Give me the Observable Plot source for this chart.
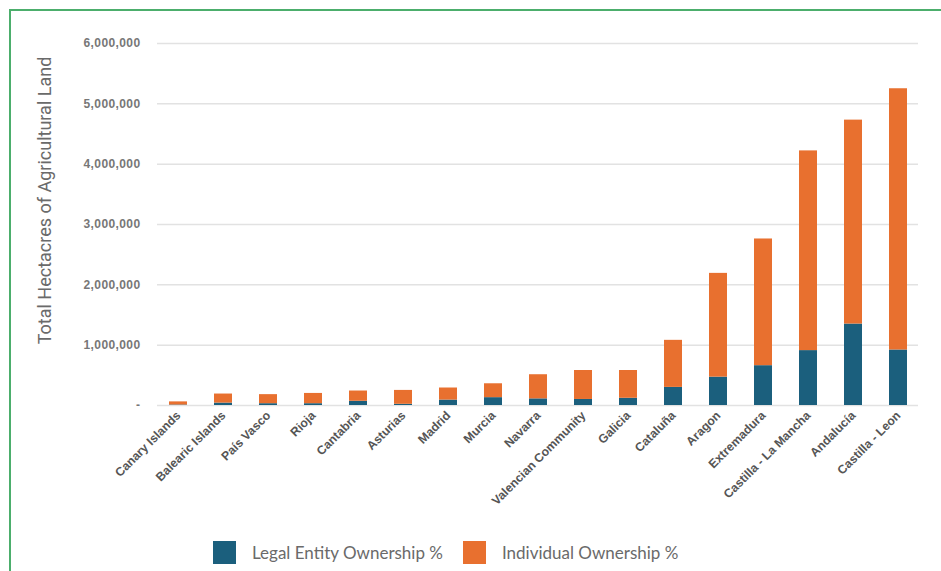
<!DOCTYPE html>
<html><head><meta charset="utf-8">
<script src="https://cdn.jsdelivr.net/npm/d3@7"></script>
<script src="https://cdn.jsdelivr.net/npm/@observablehq/plot@0.6"></script>
<style>
body{margin:0;background:#fff;}
#wrap{position:relative;width:941px;height:571px;overflow:hidden;background:#fff;}
#border{position:absolute;left:9px;top:9px;width:960px;height:600px;border-left:2px solid #4cae6c;border-top:2px solid #4cae6c;}
#chart{position:absolute;left:0;top:0;}
#legend{position:absolute;top:541px;left:213px;display:flex;align-items:center;font-family:Lato,"Open Sans",sans-serif;font-size:17px;color:#6a6a6a;white-space:nowrap;}
.sw{width:23px;height:23px;display:inline-block;margin-right:16px;}
.item{display:flex;align-items:center;margin-right:20px;}
</style></head>
<body>
<div id="wrap"><div id="border"></div><div id="chart"></div>
<div id="legend"></div></div>
<script>
const regions = ["Canary Islands","Balearic Islands","País Vasco","Rioja","Cantabria","Asturias","Madrid","Murcia","Navarra","Valencian Community","Galicia","Cataluña","Aragon","Extremadura","Castilla - La Mancha","Andalucía","Castilla - Leon"];
const legalEntity = [8000,40000,30000,30000,70000,20000,90000,130000,110000,100000,120000,300000,470000,660000,910000,1350000,920000];
const individual = [52000,150000,150000,170000,170000,230000,200000,230000,400000,480000,460000,780000,1720000,2100000,3310000,3380000,4330000];
const seriesNames = ["Legal Entity Ownership %","Individual Ownership %"];
const seriesColors = ["#1b5f7d","#e8702f"];
const yTicks = [0,1000000,2000000,3000000,4000000,5000000,6000000];
const yTitle = "Total Hectacres of Agricultural Land";

const rows = [];
regions.forEach((r,i)=>{
  rows.push({region:r, series:seriesNames[0], value:legalEntity[i]});
  rows.push({region:r, series:seriesNames[1], value:individual[i]});
});

const chart = Plot.plot({
  width: 941, height: 530,
  marginLeft: 157, marginRight: 23, marginTop: 43, marginBottom: 125,
  style: {fontFamily: "'Liberation Sans', Arial, sans-serif", background: "transparent"},
  x: {domain: regions, paddingInner: 0.6, paddingOuter: 0.25, label: null},
  y: {domain: [0, 6000000], label: null},
  color: {domain: seriesNames, range: seriesColors},
  marks: [
    Plot.gridY(yTicks, {stroke: "#e2e2e2", strokeOpacity: 1, strokeWidth: 1.5}),
    Plot.axisY(yTicks, {tickSize: 0, tickPadding: 17, tickFormat: d => d === 0 ? "-" : d3.format(",")(d),
      fill: "#777", fontWeight: "bold", fontSize: 12, label: null}),
    Plot.axisX({tickSize: 0, tickRotate: -45, tickPadding: 8, fill: "#555", fontWeight: "bold", fontSize: 12.2, label: null}),
    Plot.barY(rows, {x: "region", y: "value", fill: "series", order: seriesNames}),
    Plot.text([yTitle], {frameAnchor: "left", rotate: -90, dx: -112, dy: -24, fontSize: 18,
      fill: "#6a6a6a", fontFamily: "Roboto, sans-serif", textAnchor: "middle"})
  ]
});
chart.querySelectorAll("g[aria-label='y-axis tick label'] text").forEach(t => t.setAttribute("letter-spacing","0.4"));
document.getElementById("chart").appendChild(chart);

const legend = document.getElementById("legend");
seriesNames.forEach((s,i)=>{
  const it = document.createElement("span"); it.className = "item";
  const sw = document.createElement("span"); sw.className = "sw"; sw.style.background = seriesColors[i];
  const tx = document.createElement("span"); tx.textContent = s;
  it.appendChild(sw); it.appendChild(tx); legend.appendChild(it);
});
</script>
</body></html>
